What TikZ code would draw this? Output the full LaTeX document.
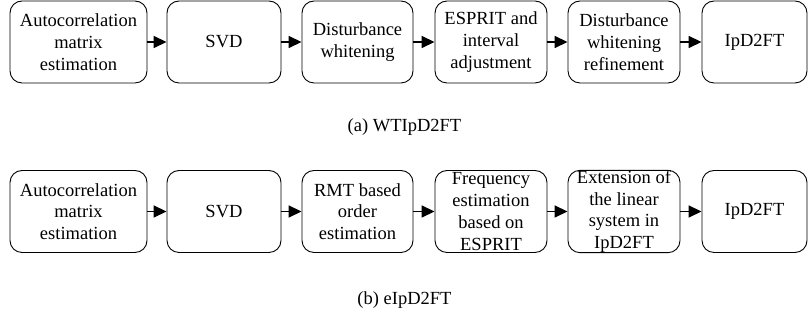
\documentclass[tikz,border=0pt]{standalone}
\usepackage{fontspec}
\setmainfont{Liberation Serif}
\usetikzlibrary{arrows.meta}
\begin{document}
\begin{tikzpicture}[x=1pt,y=1pt,
  stage/.style={draw=black, line width=0.9pt, rounded corners=12pt,
    inner sep=0pt, align=center, minimum height=82pt,
    font=\rmfamily\fontsize{18.5}{21.8}\selectfont},
  flow/.style={line width=1.6pt, -{Triangle[length=13pt,width=12pt]}},
  caption/.style={font=\rmfamily\fontsize{18.5}{22}\selectfont}]
\useasboundingbox (0,0) rectangle (809,320);

% (a) WTIpD2FT
\node[stage, minimum width=137pt] (a1) at (78.5,278) {Autocorrelation\\matrix\\estimation};
\node[stage, minimum width=114pt] (a2) at (224,278) {SVD};
\node[stage, minimum width=111pt] (a3) at (357.5,278) {Disturbance\\whitening};
\node[stage, minimum width=112pt] (a4) at (491,278) {ESPRIT and\\interval\\adjustment};
\node[stage, minimum width=112pt] (a5) at (624,278) {Disturbance\\whitening\\refinement};
\node[stage, minimum width=105pt] (a6) at (754.5,278) {IpD2FT};
\foreach \s/\t in {a1/a2,a2/a3,a3/a4,a4/a5,a5/a6}
  \draw[flow] (\s.east) -- (\t.west);
\node[caption] (capa) at (404.5,193) {(a) WTIpD2FT};

% (b) eIpD2FT
\node[stage, minimum width=137pt] (b1) at (78.5,108.5) {Autocorrelation\\matrix\\estimation};
\node[stage, minimum width=114pt] (b2) at (224,108.5) {SVD};
\node[stage, minimum width=111pt] (b3) at (357.5,108.5) {RMT based\\order\\estimation};
\node[stage, minimum width=112pt] (b4) at (491,108.5) {Frequency\\estimation\\based on\\ESPRIT};
\node[stage, minimum width=112pt] (b5) at (624,108.5) {Extension of\\the linear\\system in\\IpD2FT};
\node[stage, minimum width=105pt] (b6) at (754.5,108.5) {IpD2FT};
\foreach \s/\t in {b1/b2,b2/b3,b3/b4,b4/b5,b5/b6}
  \draw[flow] (\s.east) -- (\t.west);
\node[caption] (capb) at (404.5,20) {(b) eIpD2FT};
\end{tikzpicture}
\end{document}
